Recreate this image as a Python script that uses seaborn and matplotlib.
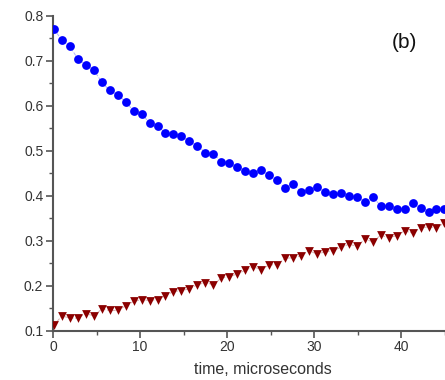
import numpy as np
import pandas as pd
import matplotlib
matplotlib.use("Agg")
import matplotlib.pyplot as plt
from matplotlib.ticker import MultipleLocator
import seaborn as sns

# sample times (microseconds)
time_us = [0.1, 1.02, 1.93, 2.85, 3.76, 4.68, 5.59, 6.51, 7.42, 8.34,
           9.25, 10.17, 11.08, 12.0, 12.91, 13.83, 14.74, 15.66, 16.57, 17.49,
           18.4, 19.32, 20.23, 21.15, 22.06, 22.98, 23.89, 24.81, 25.72, 26.64,
           27.55, 28.47, 29.38, 30.3, 31.21, 32.13, 33.04, 33.96, 34.87, 35.79,
           36.7, 37.62, 38.53, 39.45, 40.36, 41.28, 42.19, 43.11, 44.02, 44.94]

# decaying signal (blue circles)
signal_a = [0.770, 0.746, 0.732, 0.704, 0.690, 0.680, 0.652, 0.634, 0.624, 0.609,
            0.588, 0.582, 0.562, 0.554, 0.540, 0.537, 0.532, 0.521, 0.511, 0.496,
            0.493, 0.476, 0.473, 0.463, 0.454, 0.451, 0.458, 0.445, 0.434, 0.417,
            0.426, 0.409, 0.413, 0.420, 0.408, 0.404, 0.406, 0.400, 0.397, 0.387,
            0.398, 0.377, 0.377, 0.370, 0.371, 0.384, 0.373, 0.364, 0.371, 0.371]

# rising signal (dark red triangles)
signal_b = [0.112, 0.133, 0.128, 0.128, 0.138, 0.133, 0.148, 0.145, 0.145, 0.155,
            0.165, 0.169, 0.167, 0.169, 0.178, 0.187, 0.189, 0.193, 0.202, 0.207,
            0.202, 0.217, 0.220, 0.226, 0.234, 0.242, 0.236, 0.246, 0.247, 0.261,
            0.262, 0.266, 0.278, 0.270, 0.275, 0.278, 0.285, 0.292, 0.288, 0.303,
            0.298, 0.312, 0.307, 0.311, 0.322, 0.317, 0.328, 0.331, 0.328, 0.340]

x_ticks = [0, 10, 20, 30, 40]
y_ticks = [0.1, 0.2, 0.3, 0.4, 0.5, 0.6, 0.7, 0.8]

df = pd.DataFrame({"t": time_us, "a": signal_a, "b": signal_b})

sns.set_style("ticks")
plt.rcParams["font.family"] = ["Liberation Sans", "DejaVu Sans"]

W, H = 445, 380
fig = plt.figure(figsize=(W / 100, H / 100), dpi=100)
ax = fig.add_axes([53 / W, 1 - 330.7 / H, 1 - 53 / W, (330.7 - 15.7) / H])

# faint connecting lines
sns.lineplot(data=df, x="t", y="a", ax=ax, color="#7f7fff", lw=0.7,
             linestyle="--", alpha=0.6, zorder=2)
sns.lineplot(data=df, x="t", y="b", ax=ax, color="#c07f7f", lw=0.7,
             linestyle="--", alpha=0.6, zorder=2)

# markers
sns.scatterplot(data=df, x="t", y="a", ax=ax, color="#0000ff", marker="o",
                s=40, linewidth=0, zorder=3)
sns.scatterplot(data=df, x="t", y="b", ax=ax, color="#8b0000", marker="v",
                s=40, linewidth=0, zorder=3)

ax.set_xlim(0, 45)
ax.set_ylim(0.1, 0.8)
ax.set_xticks(x_ticks)
ax.set_yticks(y_ticks)
ax.set_yticklabels([f"{v:.1f}" for v in y_ticks])
ax.xaxis.set_minor_locator(MultipleLocator(5))
ax.yaxis.set_minor_locator(MultipleLocator(0.05))

for side in ("top", "right"):
    ax.spines[side].set_visible(False)
for side in ("left", "bottom"):
    ax.spines[side].set_color("#555555")
    ax.spines[side].set_linewidth(1.5)

ax.tick_params(which="major", length=5, width=1.2, color="#555555",
               labelsize=10, labelcolor="#333333", pad=2, direction="out")
ax.tick_params(which="minor", length=3, width=1.0, color="#555555",
               direction="out")

ax.set_xlabel("time, microseconds", fontsize=11.5, color="#333333")
ax.set_ylabel("")
ax.xaxis.set_label_coords((263 - 53) / (W - 53), -0.1)

# panel tag
fig.text(404 / W, 1 - 43 / H, "(b)", fontsize=15, ha="center", va="center",
         color="#111111")

fig.savefig("out.png", dpi=100)
